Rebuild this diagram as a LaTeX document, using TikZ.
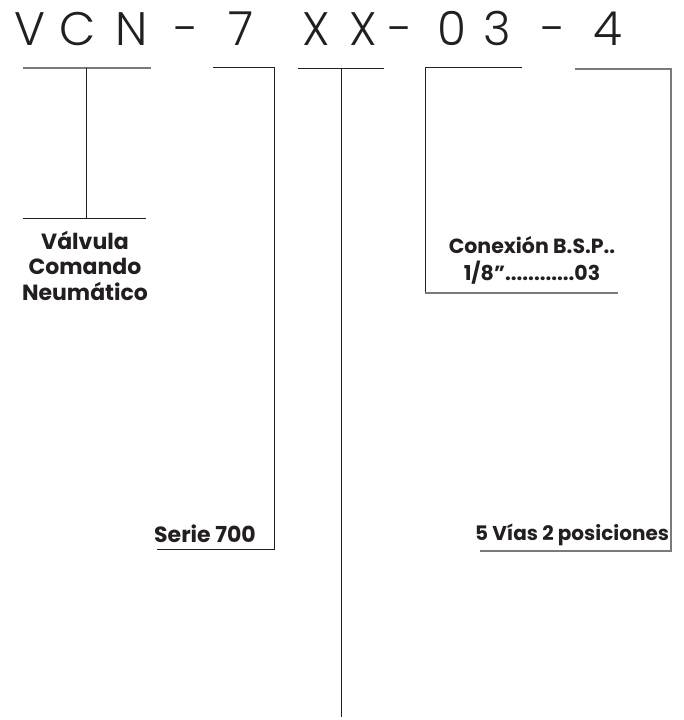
\documentclass[tikz,border=0pt]{standalone}
\usepackage{fontspec}
\setmainfont{Poppins}
\newfontfamily\titlefont{Poppins}[UprightFont=* Light]
\definecolor{ink}{HTML}{231F20}
\definecolor{greyline}{HTML}{7A7A7A}
\begin{document}
\begin{tikzpicture}[x=1pt,y=-1pt,
  ch/.style={font=\titlefont\fontsize{47}{47}\selectfont, anchor=base, inner sep=0pt, text=ink},
  lbl/.style={font=\bfseries\fontsize{22}{25.5}\selectfont, inner sep=0pt, text=ink, align=center, anchor=base},
  ln/.style={draw=ink, line width=1pt},
  gln/.style={draw=greyline, line width=1.5pt}]
\useasboundingbox[fill=white] (0,0) rectangle (683,720);
% title characters
\node[ch] (t1) at (30,45) {V};
\node[ch] (t2) at (78,45) {C};
\node[ch] (t3) at (132,45) {N};
\node[ch] (t4) at (187,45) {-};
\node[ch] (t5) at (241,45) {7};
\node[ch] (t6) at (316,45) {X};
\node[ch] (t7) at (363,45) {X};
\node[ch] (t8) at (401,45) {-};
\node[ch] (t9) at (452,45) {0};
\node[ch] (t10) at (497,45) {3};
\node[ch] (t11) at (554,45) {-};
\node[ch] (t12) at (608,45) {4};
% connector points
\coordinate (a1) at (23,68); \coordinate (a2) at (151,68);
\coordinate (a3) at (86,68); \coordinate (a4) at (86,218);
\coordinate (a5) at (23,218); \coordinate (a6) at (146,218);
\coordinate (b1) at (213,67); \coordinate (b2) at (274,67);
\coordinate (b3) at (274,549); \coordinate (b4) at (157,549);
\coordinate (c1) at (298,68); \coordinate (c2) at (384,68);
\coordinate (c3) at (341,68); \coordinate (c4) at (341,717);
\coordinate (d1) at (522,67); \coordinate (d2) at (425,67);
\coordinate (d3) at (425,293); \coordinate (d4) at (618,293);
\coordinate (e1) at (575,69); \coordinate (e2) at (671,69);
\coordinate (e3) at (671,551); \coordinate (e4) at (480,551);
\draw[gln] (a1) -- (a2);
\draw[ln] (a3) -- (a4);
\draw[ln] (a5) -- (a6);
\draw[ln] (b1) -- (b2) -- (b3) -- (b4);
\draw[ln] (c1) -- (c2);
\draw[ln] (c3) -- (c4);
\draw[ln] (d1) -- (d2) -- (d3);
\draw[gln] (d3) -- (d4);
\draw[gln] (e1) -- (e2) -- (e3) -- (e4);
% labels
\node[lbl] (vcn) at (85,300) {Válvula\\Comando\\Neumático};
\node[lbl, font=\bfseries\fontsize{20.5}{27}\selectfont] (con) at (532,280) {Conexión B.S.P..\\1/8”............03};
\node[lbl] (serie) at (205,542) {Serie 700};
\node[lbl, font=\bfseries\fontsize{20}{24}\selectfont] (vias) at (572,540) {5 Vías 2 posiciones};
\end{tikzpicture}
\end{document}
